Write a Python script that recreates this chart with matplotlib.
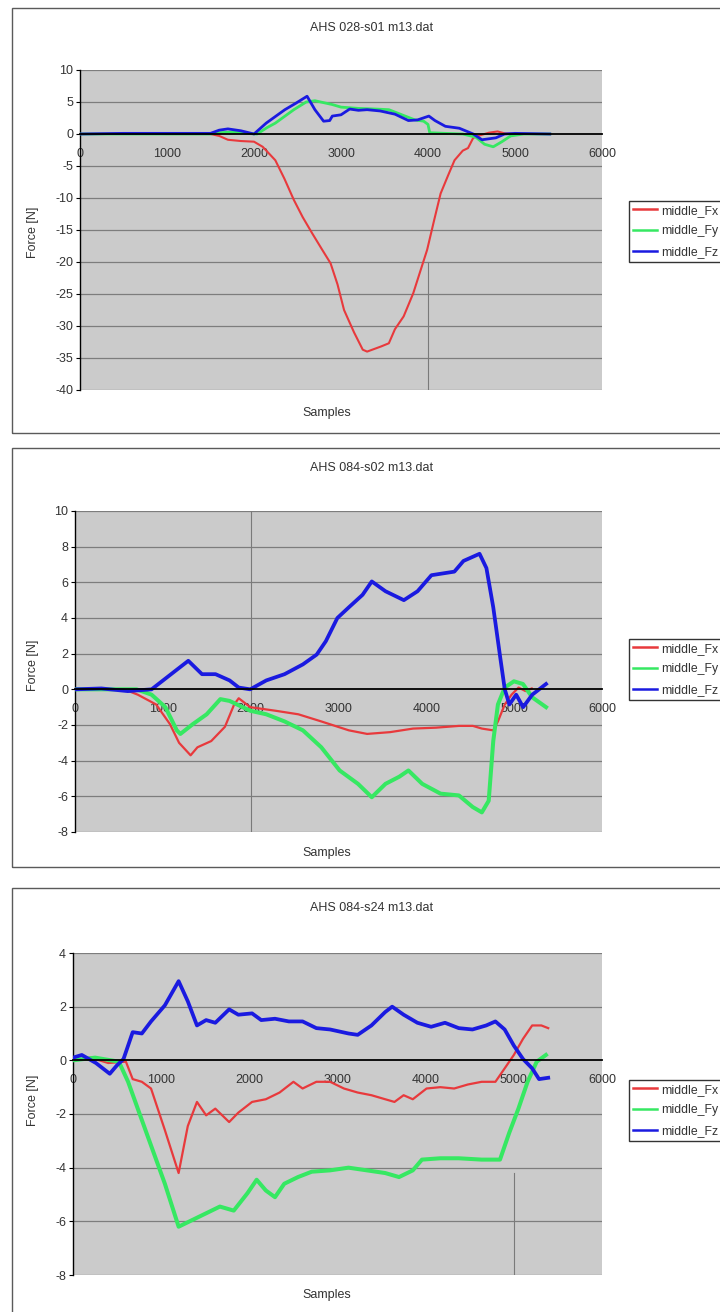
import matplotlib
matplotlib.use("Agg")
import matplotlib.pyplot as plt
from matplotlib.patches import Rectangle

plt.rcParams['font.family'] = ['Liberation Sans', 'DejaVu Sans']

W, H = 720, 1312

# ---------------- data ----------------
titles = ["AHS 028-s01 m13.dat", "AHS 084-s02 m13.dat", "AHS 084-s24 m13.dat"]
series_names = ["middle_Fx", "middle_Fy", "middle_Fz"]
x_ticks = [0, 1000, 2000, 3000, 4000, 5000, 6000]

# chart 1
c1_fx_s = [0, 500, 1000, 1500, 1600, 1700, 1850, 2000, 2100, 2245, 2350, 2458, 2560, 2668, 2780, 2880,
           2960, 3035, 3150, 3250, 3300, 3400, 3460, 3550, 3620, 3720, 3830, 3990, 4070, 4145, 4230,
           4305, 4400, 4460, 4520, 4600, 4700, 4800, 4880, 5000, 5400]
c1_fx_v = [0, 0.05, 0, 0, -0.3, -0.9, -1.1, -1.2, -2.0, -4.1, -7, -10.3, -13, -15.5, -18, -20.2,
           -23.5, -27.5, -31, -33.7, -34, -33.5, -33.2, -32.7, -30.5, -28.5, -24.9, -18.1, -13.5, -9.3, -6.5,
           -4.1, -2.6, -2.2, -0.6, -0.2, 0.2, 0.4, 0.1, 0, 0]
c1_fy_s = [0, 1500, 1600, 1750, 1900, 2035, 2150, 2245, 2458, 2600, 2700, 2800, 2900, 3000, 3200, 3400,
           3550, 3700, 3850, 3950, 4000, 4020, 4200, 4400, 4550, 4650, 4750, 4850, 4950, 5100, 5400]
c1_fy_v = [0, 0, 0.2, 0.3, 0.1, 0, 1.0, 1.7, 3.8, 5.0, 5.2, 4.9, 4.6, 4.2, 4.0, 3.9,
           3.8, 3.0, 2.2, 2.0, 1.5, 0.2, 0.1, 0, -0.5, -1.6, -2.0, -1.2, -0.3, 0, 0]
c1_fz_s = [0, 500, 1000, 1500, 1600, 1700, 1850, 2000, 2140, 2355, 2480, 2610, 2700, 2800, 2870, 2900,
           3000, 3100, 3200, 3300, 3450, 3620, 3775, 3880, 4010, 4080, 4200, 4360, 4520, 4620, 4780,
           4880, 5000, 5400]
c1_fz_v = [0, 0.1, 0.1, 0.1, 0.6, 0.8, 0.5, 0, 1.7, 3.8, 4.8, 5.9, 3.8, 2.0, 2.1, 2.8,
           3.0, 3.9, 3.7, 3.8, 3.6, 3.1, 2.1, 2.2, 2.8, 2.1, 1.2, 0.9, 0, -0.9, -0.6,
           0, 0.1, 0]

# chart 2
c2_fx_s = [0, 300, 560, 715, 924, 1081, 1185, 1316, 1394, 1551, 1707, 1812, 1864, 1995, 2282, 2543,
           2804, 3118, 3326, 3588, 3849, 4110, 4371, 4530, 4632, 4762, 4815, 4893, 4970, 5050, 5130, 5200]
c2_fx_v = [0, 0, 0, -0.3, -0.85, -1.95, -3.0, -3.7, -3.25, -2.9, -2.1, -0.85, -0.5, -1.0, -1.2, -1.4,
           -1.8, -2.3, -2.5, -2.4, -2.2, -2.15, -2.05, -2.05, -2.2, -2.3, -1.8, -0.85, -0.3, 0.1, -0.1, 0.05]
c2_fy_s = [0, 300, 700, 872, 1029, 1159, 1200, 1342, 1499, 1655, 1760, 1995, 2178, 2386, 2595, 2804,
           3013, 3222, 3379, 3535, 3692, 3796, 3953, 4162, 4371, 4528, 4632, 4710, 4762, 4815, 4893,
           4997, 5100, 5206, 5363]
c2_fy_v = [0, 0, 0, -0.3, -1.0, -2.3, -2.5, -1.95, -1.4, -0.55, -0.65, -1.2, -1.4, -1.8, -2.3, -3.25,
           -4.55, -5.3, -6.05, -5.3, -4.9, -4.55, -5.3, -5.85, -5.95, -6.6, -6.9, -6.25, -2.9, -0.85, 0.1,
           0.45, 0.3, -0.45, -1.0]
c2_fz_s = [0, 300, 600, 872, 1133, 1290, 1446, 1600, 1760, 1864, 1995, 2178, 2386, 2595, 2752, 2856,
           2987, 3118, 3274, 3379, 3535, 3744, 3900, 4058, 4319, 4423, 4606, 4684, 4762, 4841, 4893,
           4945, 5023, 5102, 5206, 5363]
c2_fz_v = [0, 0.05, -0.1, 0, 1.0, 1.6, 0.85, 0.85, 0.5, 0.1, 0, 0.5, 0.85, 1.4, 1.95, 2.7,
           4.0, 4.6, 5.3, 6.05, 5.5, 5.0, 5.5, 6.4, 6.6, 7.2, 7.6, 6.8, 4.6, 1.8, 0,
           -0.85, -0.3, -1.0, -0.3, 0.3]

# chart 3
c3_fx_s = [0, 200, 400, 600, 677, 781, 885, 1042, 1198, 1302, 1406, 1510, 1614, 1771, 1875, 2031,
           2187, 2343, 2500, 2604, 2760, 2916, 3073, 3229, 3385, 3541, 3646, 3750, 3854, 4010, 4166,
           4323, 4479, 4635, 4791, 4896, 5000, 5104, 5208, 5312, 5390]
c3_fx_v = [0, 0.1, -0.1, -0.05, -0.7, -0.8, -1.05, -2.6, -4.2, -2.45, -1.55, -2.05, -1.8, -2.3, -1.95, -1.55,
           -1.45, -1.2, -0.8, -1.05, -0.8, -0.8, -1.05, -1.2, -1.3, -1.45, -1.55, -1.3, -1.45, -1.05, -1.0,
           -1.05, -0.9, -0.8, -0.8, -0.3, 0.2, 0.8, 1.3, 1.3, 1.2]
c3_fy_s = [0, 250, 520, 625, 833, 1042, 1198, 1354, 1510, 1666, 1823, 1979, 2083, 2187, 2291, 2396,
           2552, 2708, 2916, 3125, 3333, 3541, 3698, 3854, 3958, 4166, 4375, 4635, 4843, 4948, 5052,
           5156, 5260, 5364]
c3_fy_v = [0, 0.1, -0.05, -0.8, -2.7, -4.6, -6.2, -5.95, -5.7, -5.45, -5.6, -4.95, -4.45, -4.85, -5.1, -4.6,
           -4.35, -4.15, -4.1, -4.0, -4.1, -4.2, -4.35, -4.1, -3.7, -3.65, -3.65, -3.7, -3.7, -2.7, -1.8,
           -0.8, -0.05, 0.2]
c3_fz_s = [0, 100, 260, 417, 495, 573, 677, 781, 885, 1042, 1198, 1302, 1406, 1510, 1614, 1771,
           1875, 2031, 2135, 2291, 2448, 2604, 2760, 2916, 3125, 3229, 3385, 3541, 3620, 3750, 3906,
           4062, 4219, 4375, 4531, 4687, 4791, 4896, 5000, 5104, 5208, 5286, 5390]
c3_fz_v = [0.1, 0.2, -0.1, -0.5, -0.2, 0.05, 1.05, 1.0, 1.45, 2.05, 2.95, 2.2, 1.3, 1.5, 1.4, 1.9,
           1.7, 1.75, 1.5, 1.55, 1.45, 1.45, 1.2, 1.15, 1.0, 0.95, 1.3, 1.8, 2.0, 1.7, 1.4,
           1.25, 1.4, 1.2, 1.15, 1.3, 1.45, 1.15, 0.55, 0.05, -0.3, -0.7, -0.65]

y_ranges = [(-40, 10, 5), (-8, 10, 2), (-8, 4, 2)]

# thin vertical rule drawn across each plot area: (sample, y from, y to)
v_rules = [(4000, -20, -40), (2000, -8, 10), (5000, -4.2, -8)]

# ---------------- layout (pixels, y measured from top) ----------------
# frame: (top, bottom); axes: (left, right, top, bottom)
frames = [(8, 433), (448, 867), (888, 1330)]
axes_px = [(80, 602, 70, 390), (75, 602, 511, 832), (73, 602, 953, 1275)]
title_y = [28, 468, 908]
xlabel_y = [413, 853, 1295]
ylabel_y = [232, 665, 1100]
legend_top = [201, 639, 1080]

colors = {"middle_Fx": "#e8393c", "middle_Fy": "#36e862", "middle_Fz": "#1a1ae0"}
widths = [(1.5, 2.0, 2.0), (1.6, 2.9, 2.7), (1.6, 2.9, 2.7)]

data = [
    [(c1_fx_s, c1_fx_v), (c1_fy_s, c1_fy_v), (c1_fz_s, c1_fz_v)],
    [(c2_fx_s, c2_fx_v), (c2_fy_s, c2_fy_v), (c2_fz_s, c2_fz_v)],
    [(c3_fx_s, c3_fx_v), (c3_fy_s, c3_fy_v), (c3_fz_s, c3_fz_v)],
]

fig = plt.figure(figsize=(W / 100, H / 100), dpi=100)
fig.patch.set_facecolor("white")

TXT = "#333333"
FS = 9


def fx(px):
    return px / W


def fy(py):
    return 1 - py / H


for i in range(3):
    ftop, fbot = frames[i]
    fig.add_artist(Rectangle((fx(12), fy(fbot)), fx(760) - fx(12), fy(ftop) - fy(fbot),
                             transform=fig.transFigure, fill=False, edgecolor="#5a5a5a",
                             linewidth=1.0))

    l, r, t, b = axes_px[i]
    ax = fig.add_axes([fx(l), fy(b), fx(r) - fx(l), fy(t) - fy(b)])
    ax.set_facecolor("#cbcbcb")
    ymin, ymax, ystep = y_ranges[i]
    ax.set_ylim(ymin, ymax)
    ax.set_xlim(0, 6000)

    yt = list(range(ymin, ymax + 1, ystep))
    ax.set_yticks(yt)
    ax.set_yticklabels([str(v) for v in yt])
    for v in yt:
        if v != 0:
            ax.axhline(v, color="#7d7d7d", linewidth=0.9, zorder=1)

    rx, ry0, ry1 = v_rules[i]
    ax.plot([rx, rx], [ry0, ry1], color="#7a7a7a", linewidth=0.8, zorder=1)

    for (s, v), name, lw in zip(data[i], series_names, widths[i]):
        ax.plot(s, v, color=colors[name], linewidth=lw, label=name, zorder=3,
                solid_joinstyle="round")

    ax.spines["top"].set_visible(False)
    ax.spines["right"].set_visible(False)
    ax.spines["left"].set_color("black")
    ax.spines["left"].set_linewidth(1.0)
    ax.spines["bottom"].set_position(("data", 0))
    ax.spines["bottom"].set_color("black")
    ax.spines["bottom"].set_linewidth(1.3)
    ax.spines["bottom"].set_zorder(4)

    ax.set_xticks(x_ticks)
    ax.set_xticklabels([str(v) for v in x_ticks])
    ax.tick_params(axis="x", length=0, pad=10, labelsize=FS, labelcolor=TXT)
    ax.tick_params(axis="y", length=3, width=0.8, pad=2, labelsize=FS, labelcolor=TXT,
                   direction="out")

    fig.text(fx(372), fy(title_y[i]), titles[i], ha="center", va="center",
             fontsize=FS, color=TXT)
    fig.text(fx(327), fy(xlabel_y[i]), "Samples", ha="center", va="center",
             fontsize=FS, color=TXT)
    fig.text(fx(33), fy(ylabel_y[i]), "Force [N]", ha="center", va="center",
             rotation=90, fontsize=FS, color=TXT)

    leg = ax.legend(loc="upper left", bbox_to_anchor=(fx(629), fy(legend_top[i])),
                    bbox_transform=fig.transFigure, frameon=True, fancybox=False,
                    fontsize=8.8, handlelength=2.0, handletextpad=0.3,
                    labelspacing=0.72, borderpad=0.3, borderaxespad=0)
    leg.get_frame().set_edgecolor("black")
    leg.get_frame().set_linewidth(1.0)
    for t in leg.get_texts():
        t.set_color(TXT)
    for ln in leg.get_lines():
        ln.set_linewidth(1.8)

fig.savefig("out.png", dpi=100, facecolor="white")
